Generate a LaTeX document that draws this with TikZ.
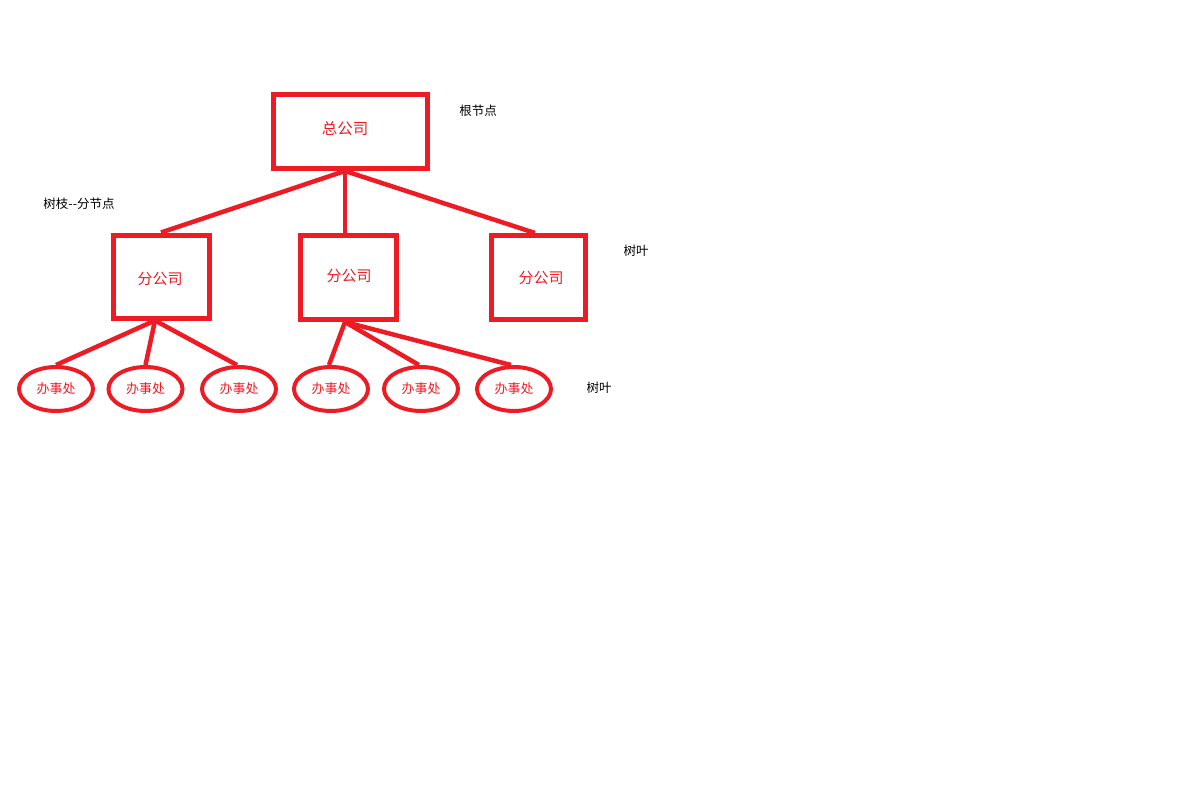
\documentclass[tikz,border=0pt]{standalone}
\usepackage{fontspec}
\setmainfont{Noto Sans CJK SC}
\usetikzlibrary{shapes.geometric}
\definecolor{paintred}{HTML}{ED1C24}
\begin{document}
\begin{tikzpicture}[x=1pt,y=-1pt,
  company/.style={draw=paintred, line width=5pt, rectangle, inner sep=0pt,
    text=paintred, font=\fontsize{15}{15}\selectfont},
  office/.style={draw=paintred, line width=4pt, ellipse, inner sep=0pt,
    minimum width=74pt, minimum height=44pt,
    text=paintred, font=\fontsize{13}{13}\selectfont},
  link/.style={draw=paintred, line width=4.5pt},
  note/.style={text=black, font=\fontsize{12.5}{12.5}\selectfont, inner sep=0pt}]
\fill[white] (0,0) rectangle (1203,795);
\useasboundingbox (0,0) rectangle (1203,795);

% head office
\node[company, minimum width=154pt, minimum height=74pt] (root) at (350.5,131.5) {};
\node[text=paintred, font=\fontsize{15.5}{15.5}\selectfont] (roottext) at (345,129) {总公司};

% branch offices
\node[company, minimum width=96pt, minimum height=83pt] (b1) at (161,276.5) {};
\node[text=paintred, font=\fontsize{15}{15}\selectfont] (b1text) at (160,279) {分公司};
\node[company, minimum width=96pt, minimum height=84pt] (b2) at (348.5,277.5) {};
\node[text=paintred, font=\fontsize{15}{15}\selectfont] (b2text) at (349,276) {分公司};
\node[company, minimum width=94pt, minimum height=84pt] (b3) at (538.5,277.5) {};
\node[text=paintred, font=\fontsize{15}{15}\selectfont] (b3text) at (541,278) {分公司};

% local offices
\node[office] (o1) at (56,389) {办事处};
\node[office] (o2) at (145.5,389) {办事处};
\node[office] (o3) at (239,389) {办事处};
\node[office] (o4) at (331,389) {办事处};
\node[office] (o5) at (421,389) {办事处};
\node[office] (o6) at (514,389) {办事处};

% connectors
\draw[link] ([xshift=-5.5pt]root.south) -- (b1.north);
\draw[link] ([xshift=-5.5pt]root.south) -- ([xshift=-3.5pt]b2.north);
\draw[link] ([xshift=-5.5pt]root.south) -- ([xshift=-3.5pt]b3.north);

\draw[link] ([xshift=-6pt]b1.south) -- (o1.north);
\draw[link] ([xshift=-6pt]b1.south) -- (o2.north);
\draw[link] ([xshift=-6pt]b1.south) -- ([xshift=-2pt]o3.north);

\draw[link] ([xshift=-3.5pt]b2.south) -- ([xshift=-2pt]o4.north);
\draw[link] ([xshift=-3.5pt]b2.south) -- ([xshift=-2pt]o5.north);
\draw[link] ([xshift=-3.5pt]b2.south) -- ([xshift=-3pt]o6.north);

% annotations
\node[note] (lroot) at (478,111) {根节点};
\node[note] (lbranch) at (79,204) {树枝-{}-分节点};
\node[note] (lleaf1) at (636,251) {树叶};
\node[note] (lleaf2) at (599,388) {树叶};
\end{tikzpicture}
\end{document}
